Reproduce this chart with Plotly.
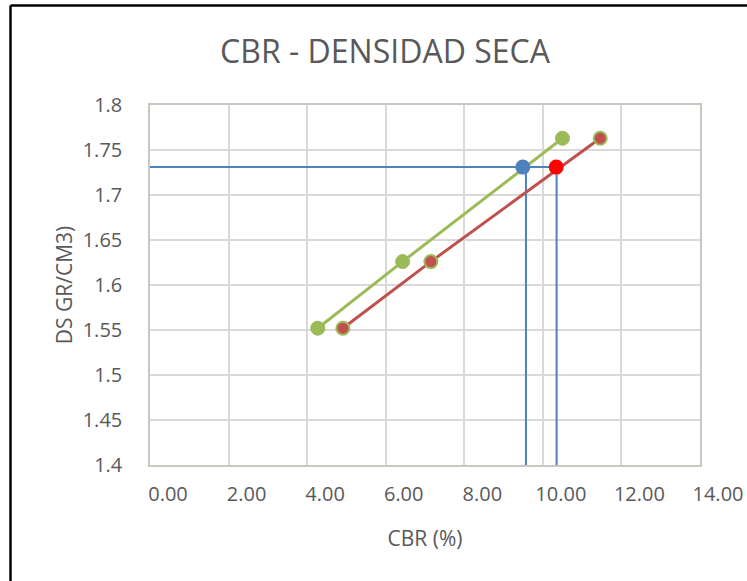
import plotly.graph_objects as go

# ---- data ----
ds_values = [1.552, 1.626, 1.763]          # densidad seca (gr/cm3)
cbr_green = [4.27, 6.43, 10.50]            # CBR series 1 (%)
cbr_red = [4.91, 7.15, 11.46]              # CBR series 2 (%)
ds_target = 1.731                          # densidad objetivo
cbr_target_green = 9.49                    # CBR at target (series 1)
cbr_target_red = 10.34                     # CBR at target (series 2)
guide_x_green = 9.57                       # vertical guide line (series 1)
guide_x_red = 10.35                        # vertical guide line (series 2)

x_tick_vals = [0, 2, 4, 6, 8, 10, 12, 14]
x_tick_labels = ["0.00", "2.00", "4.00", "6.00", "8.00", "10.00", "12.00", "14.00"]
y_tick_vals = [1.4, 1.45, 1.5, 1.55, 1.6, 1.65, 1.7, 1.75, 1.8]
y_tick_labels = ["1.4", "1.45", "1.5", "1.55", "1.6", "1.65", "1.7", "1.75", "1.8"]

title_text = "CBR - DENSIDAD SECA"
x_title = "CBR (%)"
y_title = "DS GR/CM3)"

# ---- styles ----
GREEN = "#9BBB59"
RED = "#C0504D"
BLUE = "#4F81BD"
TXT = "#595959"
FONT = "Open Sans"

W, H = 747, 581
L, R, T, B = 150, 47, 105, 116
PW, PH = W - L - R, H - T - B

def px(xp):
    return (xp - L) / PW

def py(yp):
    return (H - B - yp) / PH

fig = go.Figure()

# blue guide lines
fig.add_trace(go.Scatter(
    x=[0, guide_x_red, guide_x_red], y=[ds_target, ds_target, y_tick_vals[0]],
    mode="lines", line=dict(color=BLUE, width=2), hoverinfo="skip", showlegend=False))
fig.add_trace(go.Scatter(
    x=[guide_x_green, guide_x_green], y=[ds_target, y_tick_vals[0]],
    mode="lines", line=dict(color=BLUE, width=2), hoverinfo="skip", showlegend=False))

# series
fig.add_trace(go.Scatter(
    x=cbr_green, y=ds_values, mode="lines+markers",
    line=dict(color=GREEN, width=3),
    marker=dict(size=14, color=GREEN, line=dict(color=GREEN, width=1)),
    showlegend=False))
fig.add_trace(go.Scatter(
    x=cbr_red, y=ds_values, mode="lines+markers",
    line=dict(color=RED, width=3),
    marker=dict(size=13, color=RED, line=dict(color=GREEN, width=2)),
    showlegend=False))

# target points
fig.add_trace(go.Scatter(
    x=[cbr_target_green], y=[ds_target], mode="markers",
    marker=dict(size=15, color=BLUE), showlegend=False))
fig.add_trace(go.Scatter(
    x=[cbr_target_red], y=[ds_target], mode="markers",
    marker=dict(size=15, color="#FF0000"), showlegend=False))

# outer chart border (left and top visible)
bx, by = px(10.5), py(5.5)
fig.add_shape(type="line", xref="paper", yref="paper",
              x0=bx, x1=bx, y0=py(H + 5), y1=by,
              line=dict(color="black", width=2.5))
fig.add_shape(type="line", xref="paper", yref="paper",
              x0=bx, x1=px(W + 5), y0=by, y1=by,
              line=dict(color="black", width=2.5))

fig.update_layout(
    width=W, height=H,
    margin=dict(l=L, r=R, t=T, b=B),
    paper_bgcolor="white", plot_bgcolor="white",
    font=dict(family=FONT, color=TXT, size=20),
    title=dict(text=title_text, x=385 / W, xref="container", xanchor="center",
               y=1 - 52 / H, yref="container", yanchor="middle",
               font=dict(size=32, color=TXT, family=FONT)),
    xaxis=dict(range=[0, 14], tickvals=x_tick_vals, ticktext=x_tick_labels,
               showgrid=True, gridcolor="#D9D9D9", gridwidth=1.5,
               showline=True, linecolor="#C8C8BE", linewidth=1.5, mirror=True,
               zeroline=False, ticks="", ticklabelstandoff=10, ticklabelshift=18,
               tickfont=dict(size=20, color=TXT), automargin=False,
               title=dict(text=x_title, font=dict(size=21, color=TXT), standoff=26)),
    yaxis=dict(range=[1.4, 1.8], tickvals=y_tick_vals, ticktext=y_tick_labels,
               showgrid=True, gridcolor="#D9D9D9", gridwidth=1.5,
               showline=True, linecolor="#C8C8BE", linewidth=1.5, mirror=True,
               zeroline=False, ticks="", ticklabelstandoff=22,
               tickfont=dict(size=20, color=TXT), automargin=False,
               title=dict(text=y_title, font=dict(size=21, color=TXT), standoff=4)),
)

fig.write_html("out.html", config={"displayModeBar": False},
               post_script="document.body.style.margin='0';document.body.style.overflow='hidden';")
